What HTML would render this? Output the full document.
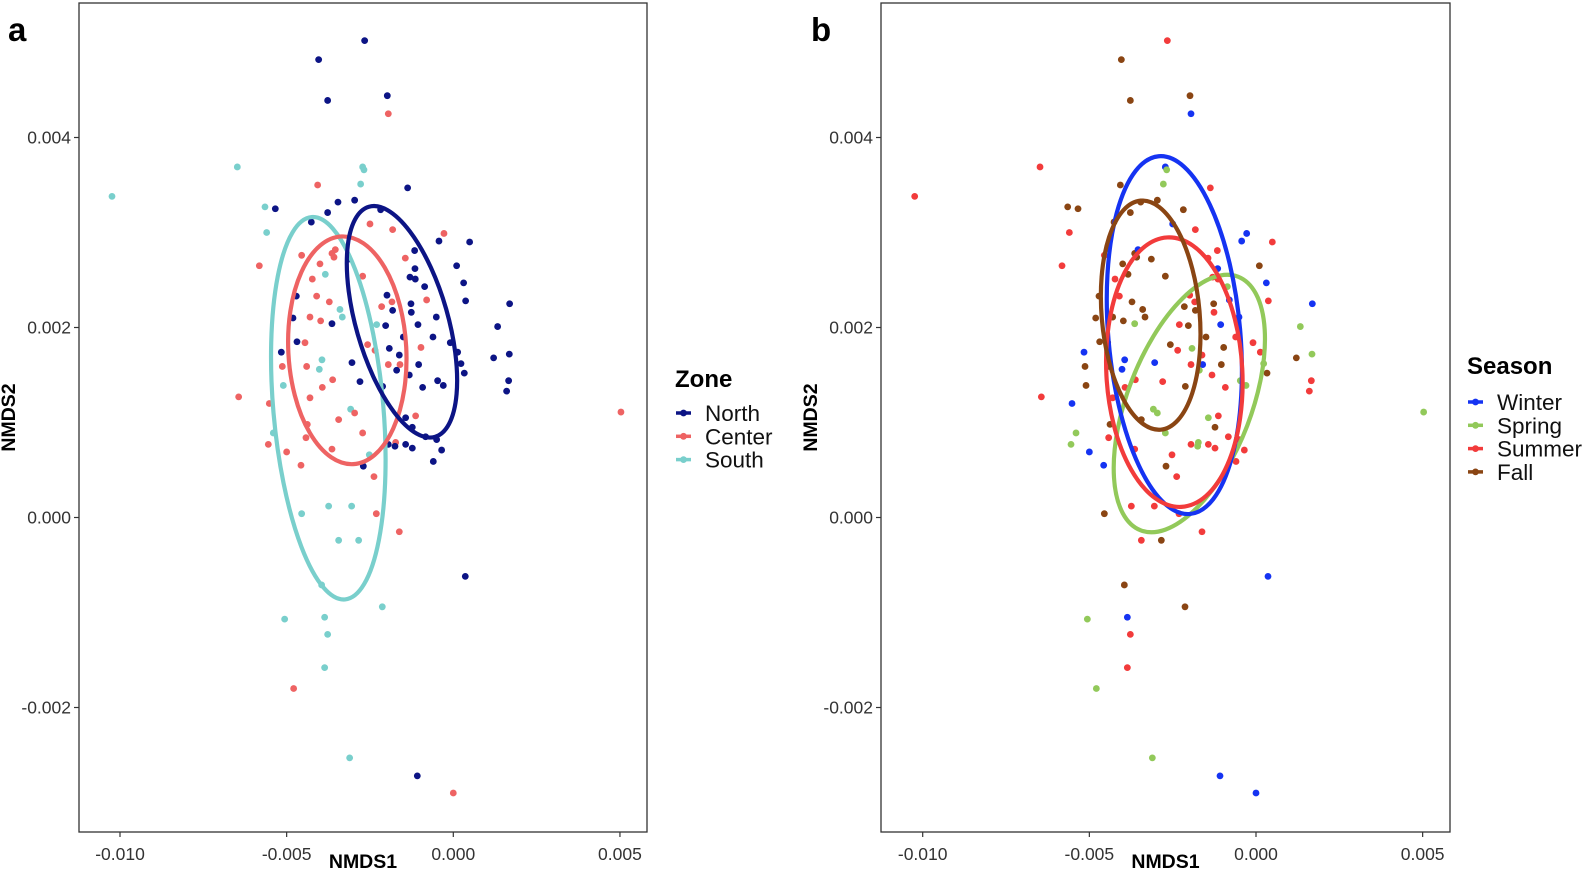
<!DOCTYPE html>
<html><head><meta charset="utf-8">
<style>
html,body{margin:0;padding:0;background:#fff;}
svg{display:block;font-family:"Liberation Sans",Arial,sans-serif;}
</style></head>
<body>
<svg id="chart" width="1594" height="874" viewBox="0 0 1594 874" xmlns="http://www.w3.org/2000/svg"></svg>
<script>
// NMDS scores (units of 1e-3)
const nmds1 = [-6.48,-2.72,-2.68,-2.78,-5.65,-5.60,-3.84,-3.40,-3.33,-2.30,-3.94,-4.02,-5.10,-3.08,-5.40,-2.52,
-4.55,-3.74,-3.05,-3.44,-2.84,-5.06,-3.86,-3.77,-3.86,-3.11,-2.13,-3.95,-10.24,
-4.07,-2.50,-1.82,-0.28,-4.55,-5.82,-3.64,-3.54,-3.58,-1.44,-4.00,-2.72,-4.23,-4.10,-3.72,-2.15,-1.84,-0.80,-4.30,-3.98,-4.45,-2.57,-2.35,-0.97,-5.13,-4.40,-3.62,-1.95,-1.60,-3.93,-4.30,-6.44,-5.52,-2.96,-3.44,-1.13,-4.38,-2.72,-5.55,-4.42,-5.00,-3.64,-4.57,-2.38,-1.73,
-1.95,5.03,0.00,-4.79,-1.62,-2.31,
-5.34,-3.46,-2.96,-3.77,-2.18,-1.37,-4.26,-0.43,0.49,-1.16,-3.14,0.10,-1.15,-1.30,-1.14,0.31,-0.86,-1.99,0.37,-1.27,-1.82,-1.26,1.69,-4.71,-4.81,-3.64,-2.03,-1.06,-0.51,1.33,-0.61,-1.50,-4.69,-0.09,-5.16,-1.92,-1.62,-3.04,-1.04,0.13,0.23,1.21,1.68,-1.70,-1.32,-2.80,-2.12,-0.92,-0.47,-0.30,0.33,1.66,1.60,-1.43,-1.23,-0.83,-0.50,-1.95,-1.75,-1.43,-1.23,-0.35,-0.60,-2.70,
-4.04,-2.66,-3.77,-1.98,0.36,-1.08];
const nmds2 = [3.69,3.69,3.66,3.51,3.27,3.00,2.56,2.19,2.11,2.03,1.66,1.56,1.39,1.14,0.89,0.66,
0.04,0.12,0.12,-0.24,-0.24,-1.07,-1.05,-1.23,-1.58,-2.53,-0.94,-0.71,3.38,
3.50,3.09,3.03,2.99,2.76,2.65,2.78,2.82,2.74,2.73,2.67,2.54,2.51,2.33,2.27,2.22,2.27,2.29,2.11,2.07,1.84,1.82,1.76,1.79,1.59,1.59,1.45,1.61,1.61,1.37,1.26,1.27,1.20,1.10,1.03,1.07,0.98,0.89,0.77,0.84,0.69,0.72,0.55,0.43,0.79,
4.25,1.11,-2.90,-1.80,-0.15,0.04,
3.25,3.32,3.34,3.21,3.24,3.47,3.11,2.91,2.90,2.81,2.72,2.65,2.62,2.53,2.51,2.47,2.43,2.34,2.28,2.25,2.18,2.16,2.25,2.33,2.10,2.04,2.02,2.03,2.11,2.01,1.90,1.90,1.85,1.84,1.74,1.78,1.71,1.63,1.61,1.74,1.62,1.68,1.72,1.55,1.50,1.43,1.38,1.37,1.44,1.39,1.52,1.44,1.33,1.05,0.95,0.85,0.82,0.77,0.75,0.77,0.73,0.71,0.59,0.54,
4.82,5.02,4.39,4.44,-0.62,-2.72];
const zone = ["S","S","S","S","S","S","S","S","S","S","S","S","S","S","S","S",
"S","S","S","S","S","S","S","S","S","S","S","S","S",
"C","C","C","C","C","C","C","C","C","C","C","C","C","C","C","C","C","C","C","C","C","C","C","C","C","C","C","C","C","C","C","C","C","C","C","C","C","C","C","C","C","C","C","C","C",
"C","C","C","C","C","C",
"N","N","N","N","N","N","N","N","N","N","N","N","N","N","N","N","N","N","N","N","N","N","N","N","N","N","N","N","N","N","N","N","N","N","N","N","N","N","N","N","N","N","N","N","N","N","N","N","N","N","N","N","N","N","N","N","N","N","N","N","N","N","N","N",
"N","N","N","N","N","N"];
const season = ["Su","W","Sp","Sp","F","Su","F","F","F","Su","W","W","F","Sp","Sp","Su",
"F","Su","Su","Su","F","Sp","W","Su","Su","Sp","F","F","Su",
"F","W","Su","W","Su","Su","F","W","F","Su","F","F","Su","Su","F","F","Su","W","F","F","F","F","Su","F","F","F","Su","Su","W","Su","Su","Su","W","Sp","F","Su","F","Sp","Sp","Su","W","Su","W","Su","Sp",
"W","Sp","W","Sp","Su","Su",
"F","F","F","F","F","Su","F","W","Su","Su","F","F","W","Su","Su","W","Sp","Su","Su","F","F","Su","W","F","F","Sp","F","W","W","Sp","Su","F","F","Su","W","Sp","Su","W","F","Su","Sp","F","Sp","Sp","Su","Su","F","Su","Sp","Sp","F","Su","Su","Sp","F","Su","Su","Su","Sp","Su","Su","Su","Su","F",
"F","Su","F","F","W","W"];
// ellipse summaries: centre, semi-extent (x, y, units 1e-3), rotation deg
const zoneEllKeys = ["S","C","N"];
const zoneEllCx = [-3.75,-3.18,-1.54];
const zoneEllCy = [1.15,1.76,2.06];
const zoneEllRx = [1.65,1.77,1.38];
const zoneEllRy = [2.02,1.20,1.26];
const zoneEllRot = [-5,-3,-16];
const seasonEllKeys = ["Sp","W","Su","F"];
const seasonEllCx = [-2.00,-2.45,-2.45,-3.16];
const seasonEllCy = [1.20,1.92,1.53,2.13];
const seasonEllRx = [1.86,1.98,2.04,1.47];
const seasonEllRy = [1.43,1.89,1.42,1.21];
const seasonEllRot = [21,-5,-3,-5];
const xTicks = [-10,-5,0,5];
const xTickLabels = ["-0.010","-0.005","0.000","0.005"];
const yTicks = [4,2,0,-2];
const yTickLabels = ["0.004","0.002","0.000","-0.002"];
const zoneKeys = ["N","C","S"];
const zoneNames = ["North","Center","South"];
const seasonKeys = ["W","Sp","Su","F"];
const seasonNames = ["Winter","Spring","Summer","Fall"];

const zoneColor = {N:"#0c1485",C:"#ee6363",S:"#79cfcc"};
const seasonColor = {W:"#1533f2",Sp:"#92c95a",Su:"#f23b3b",F:"#8a4513"};
const NS="http://www.w3.org/2000/svg";
const svg=document.getElementById('chart');
function mk(tag,attrs,parent){const e=document.createElementNS(NS,tag);for(const k in attrs)e.setAttribute(k,attrs[k]);(parent||svg).appendChild(e);return e;}

const panels=[{id:"a",labX:8,left:79,right:647,x0:453.3,key:zone,col:zoneColor,
  eK:zoneEllKeys,eCx:zoneEllCx,eCy:zoneEllCy,eRx:zoneEllRx,eRy:zoneEllRy,eRot:zoneEllRot,
  lgTitle:"Zone",lgKeys:zoneKeys,lgNames:zoneNames,lgX:675,lgTitleY:387,lgItemY:413},
 {id:"b",labX:811,left:881,right:1450,x0:1256,key:season,col:seasonColor,
  eK:seasonEllKeys,eCx:seasonEllCx,eCy:seasonEllCy,eRx:seasonEllRx,eRy:seasonEllRy,eRot:seasonEllRot,
  lgTitle:"Season",lgKeys:seasonKeys,lgNames:seasonNames,lgX:1467,lgTitleY:374,lgItemY:402}];
const TOP=3,BOT=832,Y0=517.5,YS=95,XS=33.33;
function yPix(v){return Y0-v*YS;}

panels.forEach(p=>{
  const xPix=v=>p.x0+v*XS;
  const g=mk('g',{});
  
  
  const lab=mk('text',{x:p.labX,y:41,'font-size':33,'font-weight':'bold',fill:'#000'},g);
  lab.textContent=p.id;
  
  
  const pg=mk('g',{},g);
  
  
  for(let i=0;i<nmds1.length;i++){
    const c=mk('circle',{cx:xPix(nmds1[i]),cy:yPix(nmds2[i]),r:3.4,fill:p.col[p.key[i]]},pg);
    
    
  }
  for(let j=0;j<p.eK.length;j++){
    const cx=xPix(p.eCx[j]),cy=yPix(p.eCy[j]);
    const e=mk('ellipse',{cx:cx,cy:cy,rx:p.eRx[j]*XS,ry:p.eRy[j]*YS,fill:'none',stroke:p.col[p.eK[j]],'stroke-width':4.2,transform:`rotate(${p.eRot[j]} ${cx} ${cy})`},g);
    
    
  }
  const fr=mk('rect',{x:p.left,y:TOP,width:p.right-p.left,height:BOT-TOP,fill:'none',stroke:'#333','stroke-width':1.3},g);
  
  
  xTicks.forEach((t,k)=>{
    const x=xPix(t);
    mk('line',{x1:x,x2:x,y1:BOT,y2:BOT+5,stroke:'#333','stroke-width':1.2},g);
    const tl=mk('text',{x:x,y:BOT+28,'font-size':17.5,'text-anchor':'middle',fill:'#333'},g);
    tl.textContent=xTickLabels[k];
    
    
  });
  yTicks.forEach((t,k)=>{
    const y=yPix(t);
    mk('line',{x1:p.left-5,x2:p.left,y1:y,y2:y,stroke:'#333','stroke-width':1.2},g);
    const tl=mk('text',{x:p.left-8,y:y+6,'font-size':17.5,'text-anchor':'end',fill:'#333'},g);
    tl.textContent=yTickLabels[k];
    
    
  });
  const xt=mk('text',{x:(p.left+p.right)/2,y:868,'font-size':19.5,'font-weight':'bold','text-anchor':'middle',fill:'#000'},g);
  xt.textContent="NMDS1";
  
  
  const yx=p.left-64, yy=(TOP+BOT)/2;
  const yt=mk('text',{x:yx,y:yy,'font-size':19.5,'font-weight':'bold','text-anchor':'middle',fill:'#000',transform:`rotate(-90 ${yx} ${yy})`},g);
  yt.textContent="NMDS2";
  
  
  const lg=mk('g',{},g);
  
  
  const lt=mk('text',{x:p.lgX,y:p.lgTitleY,'font-size':24,'font-weight':'bold',fill:'#000'},lg);
  lt.textContent=p.lgTitle;
  
  
  p.lgKeys.forEach((k,m)=>{
    const y=p.lgItemY+m*23.3;
    mk('line',{x1:p.lgX+1,x2:p.lgX+16,y1:y,y2:y,stroke:p.col[k],'stroke-width':3.5},lg);
    mk('circle',{cx:p.lgX+8.5,cy:y,r:3.4,fill:p.col[k]},lg);
    const t=mk('text',{x:p.lgX+30,y:y+8,'font-size':22.5,fill:'#111'},lg);
    t.textContent=p.lgNames[m];
    
    
  });
});
</script>
</body></html>
